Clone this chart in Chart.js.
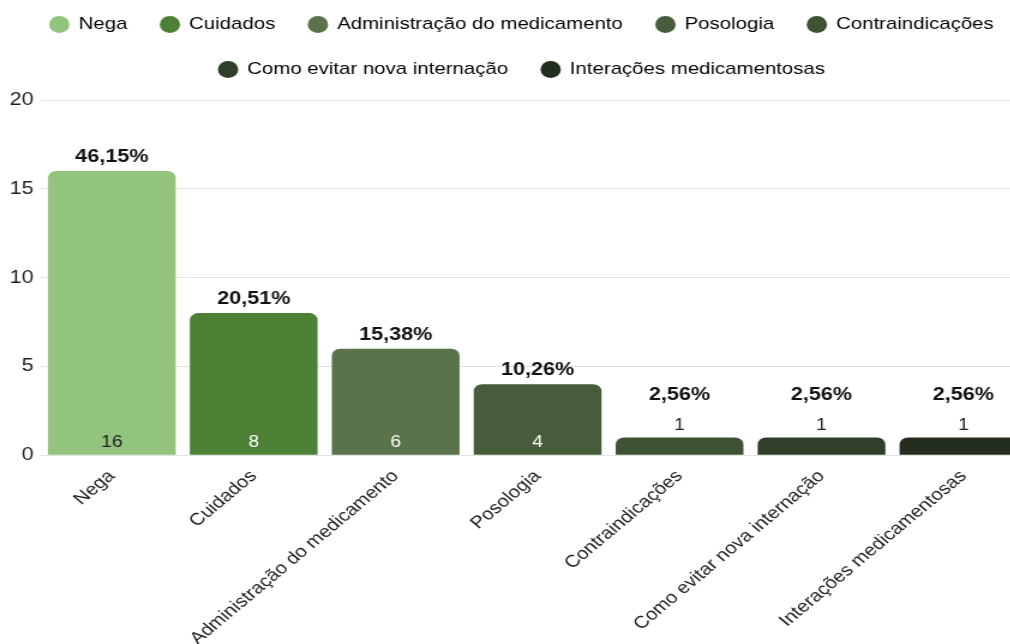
<!DOCTYPE html>
<html>
<head>
<meta charset="utf-8">
<script src="https://cdn.jsdelivr.net/npm/chart.js@4"></script>
<style>
  html, body { margin: 0; padding: 0; background: #fff; overflow: hidden; }
  #wrap { width: 1010px; height: 644px; overflow: hidden; }
  #cvs { display: block; margin-top: -12px; }
</style>
</head>
<body>
<div id="wrap">
  <!-- the reference is horizontally stretched, so the canvas is too -->
  <canvas id="cvs" width="885" height="664" style="width:1062px;height:664px"></canvas>
</div>
<script>
const categories = ['Nega', 'Cuidados', 'Administração do medicamento', 'Posologia',
                    'Contraindicações', 'Como evitar nova internação', 'Interações medicamentosas'];
const counts = [16, 8, 6, 4, 1, 1, 1];
const percents = ['46,15%', '20,51%', '15,38%', '10,26%', '2,56%', '2,56%', '2,56%'];
const colors = ['#93c47d', '#4c8035', '#5b734b', '#465c3b', '#3e5234', '#2f3f29', '#242e1e'];

const FONT = '"Liberation Sans", Arial, sans-serif';

// draws the percentage above each bar and the count inside (or above, for small bars)
const barLabels = {
    id: 'barLabels',
    afterDatasetsDraw(chart) {
        const ctx = chart.ctx;
        const meta = chart.getDatasetMeta(0);
        ctx.save();
        ctx.textAlign = 'center';
        ctx.textBaseline = 'middle';
        meta.data.forEach((bar, i) => {
            const h = bar.base - bar.y;
            let pctY;
            ctx.font = '16px ' + FONT;
            if (h > 30) {
                ctx.fillStyle = i === 0 ? '#222' : '#fff';
                ctx.fillText(counts[i], bar.x, bar.base - 12);
                pctY = bar.y - 14;
            } else {
                ctx.fillStyle = '#222';
                ctx.fillText(counts[i], bar.x, bar.y - 12);
                pctY = bar.y - 42;
            }
            ctx.font = 'bold 18px ' + FONT;
            ctx.fillStyle = '#111';
            ctx.fillText(percents[i], bar.x, pctY);
        });
        ctx.restore();
    }
};

// a bit more room between legend and plot
const legendGap = {
    id: 'legendGap',
    beforeInit(chart) {
        const fit = chart.legend.fit;
        chart.legend.fit = function() {
            fit.bind(chart.legend)();
            this.height += 12;
        };
    }
};

new Chart(document.getElementById('cvs'), {
    type: 'bar',
    data: {
        labels: categories,
        datasets: [{
            data: counts,
            backgroundColor: colors,
            borderRadius: { topLeft: 7, topRight: 7 },
            borderSkipped: 'bottom',
            barPercentage: 0.9,
            categoryPercentage: 1
        }]
    },
    options: {
        responsive: false,
        animation: false,
        layout: { padding: { left: 8, right: 23, top: 0, bottom: 0 } },
        plugins: {
            tooltip: { enabled: false },
            legend: {
                display: true,
                position: 'top',
                labels: {
                    usePointStyle: true,
                    pointStyle: 'circle',
                    boxWidth: 15,
                    boxHeight: 12,
                    padding: 28,
                    color: '#222',
                    font: { family: FONT, size: 17 },
                    generateLabels(chart) {
                        return categories.map((c, i) => ({
                            text: c,
                            fillStyle: colors[i],
                            strokeStyle: colors[i],
                            lineWidth: 0,
                            pointStyle: 'circle',
                            hidden: false,
                            index: i
                        }));
                    }
                }
            }
        },
        scales: {
            x: {
                grid: { display: false },
                border: { display: false },
                ticks: {
                    color: '#222',
                    font: { family: FONT, size: 17 },
                    maxRotation: 45,
                    minRotation: 45,
                    autoSkip: false
                },
                afterFit(scale) {
                    scale.paddingLeft = 0;
                    scale.paddingRight = 0;
                }
            },
            y: {
                min: 0,
                max: 20,
                ticks: {
                    stepSize: 5,
                    color: '#222',
                    padding: 6,
                    font: { family: FONT, size: 18 }
                },
                grid: { color: '#e3e3e3', drawTicks: false },
                border: { display: false },
                afterFit(scale) {
                    scale.width = 26;
                }
            }
        }
    },
    plugins: [barLabels, legendGap]
});
</script>
</body>
</html>
